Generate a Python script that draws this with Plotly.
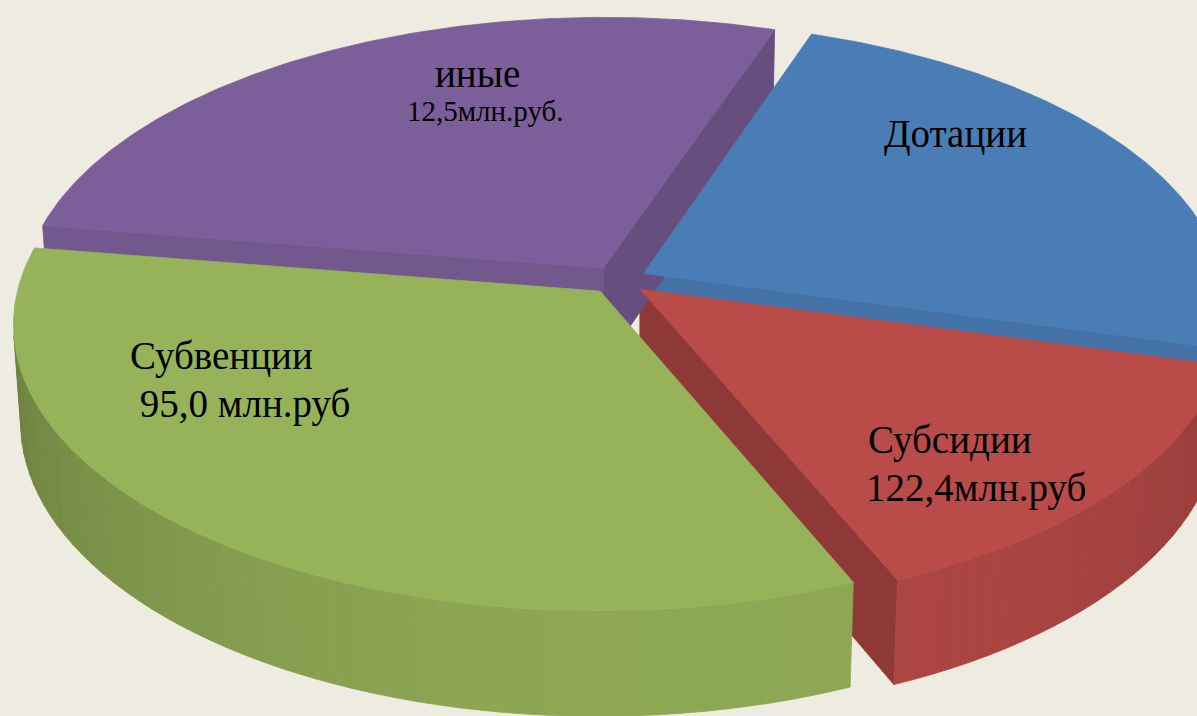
import numpy as np
import plotly.graph_objects as go

# ---- data ----
categories = ["Дотации", "Субсидии", "Субвенции", "иные"]
shares = [23.9, 14.4, 33.9, 27.8]           # share of the pie (%)
value_texts = ["", "122,4млн.руб", " 95,0 млн.руб", "12,5млн.руб."]
colors = ["#4A7DB6", "#B94B48", "#97B35A", "#7C5F9A"]

# ---- 3-D pie geometry / styling ----
START_ANGLE = 71.0       # degrees, first slice starts here, goes clockwise
ELEV = np.radians(29.0)
DIST = 7.81              # camera distance in radii
FOC = 4531.0             # focal length in px
CX, CY = 618.0, 280.0
THICK = 0.194
EXPLODE = 0.05
BG = "#EEECE1"
W, H = 1197, 716

cam = np.array([0.0, -DIST * np.cos(ELEV), DIST * np.sin(ELEV)])


def proj(x, y, z):
    x = np.asarray(x, float); y = np.asarray(y, float); z = np.asarray(z, float)
    depth = DIST + y * np.cos(ELEV) - z * np.sin(ELEV)
    sx = FOC * x / depth
    sy = FOC * (y * np.sin(ELEV) + z * np.cos(ELEV)) / depth
    return CX + sx, CY - sy


def shade(hex_color, normal_deg):
    f = 0.72 + 0.22 * max(0.0, np.cos(np.radians(normal_deg + 80.0)))
    h = hex_color.lstrip("#")
    r, g, b = (int(h[i:i + 2], 16) for i in (0, 2, 4))
    return "rgb(%d,%d,%d)" % (r * f, g * f, b * f)


def visible(point, normal_deg):
    n = np.array([np.cos(np.radians(normal_deg)), np.sin(np.radians(normal_deg)), 0.0])
    return np.dot(cam - point, n) > 0


def poly(xs, ys, color):
    return go.Scatter(x=list(xs) + [xs[0]], y=list(ys) + [ys[0]], mode="lines",
                      fill="toself", fillcolor=color,
                      line=dict(color=color, width=0.8),
                      hoverinfo="skip", showlegend=False)


total = float(sum(shares))
cum = np.concatenate([[0.0], np.cumsum(shares)])
slices = []
for i, c in enumerate(categories):
    a2 = START_ANGLE - 360.0 * cum[i] / total
    a1 = START_ANGLE - 360.0 * cum[i + 1] / total
    mid = np.radians((a1 + a2) / 2)
    ox, oy = EXPLODE * np.cos(mid), EXPLODE * np.sin(mid)
    slices.append((a1, a2, ox, oy, colors[i]))

radial, outer, tops = [], [], []
for a1, a2, ox, oy, col in slices:
    # radial walls
    for ang, nrm in ((a1, a1 - 90.0), (a2, a2 + 90.0)):
        t = np.radians(ang)
        ex, ey = ox + np.cos(t), oy + np.sin(t)
        midp = np.array([(ox + ex) / 2, (oy + ey) / 2, -THICK / 2])
        if visible(midp, nrm):
            px, py = proj([ox, ex, ex, ox], [oy, ey, ey, oy], [0, 0, -THICK, -THICK])
            radial.append(poly(px, py, shade(col, nrm)))
    # outer wall, in small segments
    nseg = max(2, int(np.ceil((a2 - a1) / 2.0)))
    edges = np.linspace(a1, a2, nseg + 1)
    for t0, t1 in zip(edges[:-1], edges[1:]):
        tm = (t0 + t1) / 2
        p = np.array([ox + np.cos(np.radians(tm)), oy + np.sin(np.radians(tm)), -THICK / 2])
        if not visible(p, tm):
            continue
        ts = np.radians(np.linspace(t0, t1, 4))
        xs = np.concatenate([ox + np.cos(ts), ox + np.cos(ts[::-1])])
        ys = np.concatenate([oy + np.sin(ts), oy + np.sin(ts[::-1])])
        zs = np.concatenate([np.zeros(4), np.full(4, -THICK)])
        px, py = proj(xs, ys, zs)
        outer.append(poly(px, py, shade(col, tm)))
    # top face
    ts = np.radians(np.linspace(a1, a2, 200))
    xs = np.concatenate([[ox], ox + np.cos(ts)])
    ys = np.concatenate([[oy], oy + np.sin(ts)])
    px, py = proj(xs, ys, np.zeros(len(xs)))
    tops.append(poly(px, py, col))

fig = go.Figure(radial + outer + tops)

FONT = "Times New Roman, Liberation Serif, serif"
label_specs = [
    # (text, x, y, size, anchor)
    (categories[3], 477, 73, 39, "center"),
    (value_texts[3], 485, 111, 29, "center"),
    (categories[0], 955, 134, 39, "center"),
    (categories[2], 128, 356, 39, "left"),
    (value_texts[2], 128, 404, 39, "left"),
    (categories[1], 866, 440, 39, "left"),
    (value_texts[1], 864, 488, 39, "left"),
]
for txt, x, y, s, anc in label_specs:
    shown = ("&nbsp;" + txt[1:]) if txt.startswith(" ") else txt
    fig.add_annotation(x=x, y=y, xref="x", yref="y", text=shown,
                       showarrow=False, xanchor=anc, yanchor="middle",
                       font=dict(family=FONT, size=s, color="#000000"))

fig.update_layout(width=W, height=H, margin=dict(l=0, r=0, t=0, b=0),
                  paper_bgcolor=BG, plot_bgcolor=BG,
                  xaxis=dict(range=[0, W], visible=False, fixedrange=True),
                  yaxis=dict(range=[H, 0], visible=False, fixedrange=True))
fig.write_html("out.html", config={"displayModeBar": False},
               post_script="document.body.style.margin='0';"
                           "document.body.style.background='%s';" % BG)
